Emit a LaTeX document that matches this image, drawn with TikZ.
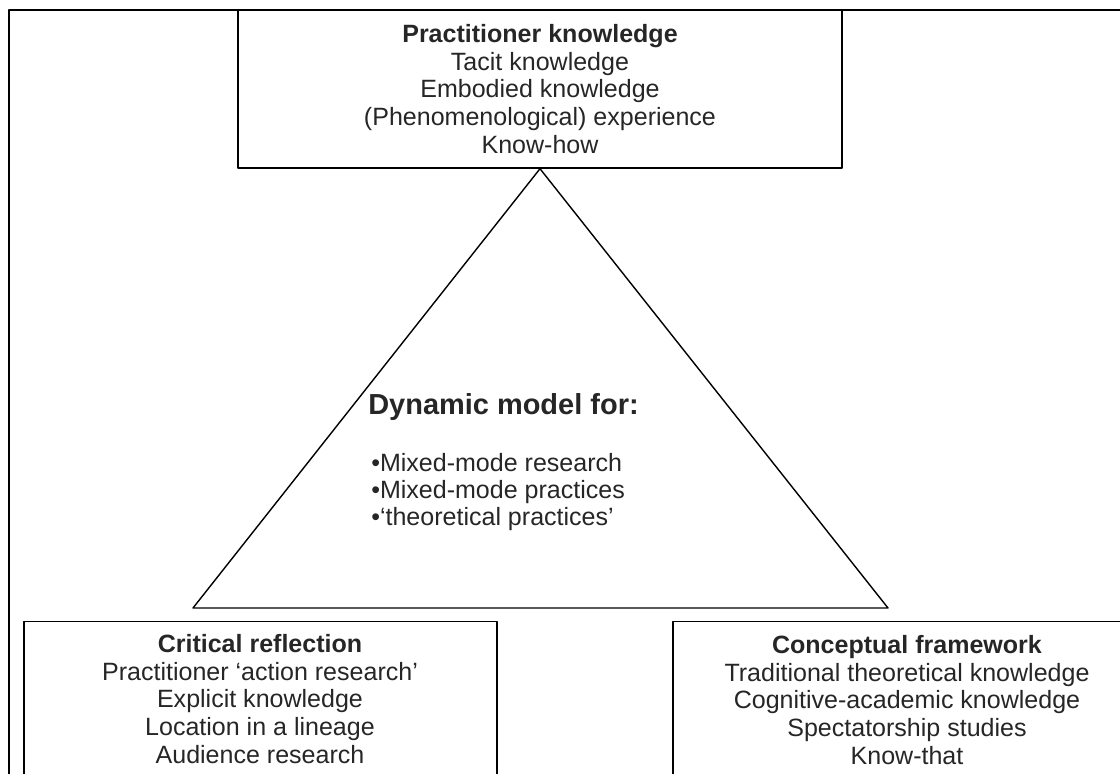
\documentclass[tikz,border=0pt]{standalone}
\usepackage{fontspec}
\setmainfont{Liberation Sans}
\usetikzlibrary{positioning}
\begin{document}
\begin{tikzpicture}[line join=round,x=0.025cm,y=-0.025cm,
  kbox/.style={draw,line width=1pt,inner sep=0pt},
  ktext/.style={align=center,inner sep=0pt,text=black!85,font=\fontsize{17.8pt}{19.6pt}\selectfont},
  klist/.style={align=left,inner sep=0pt,text=black!85,font=\fontsize{17.8pt}{19.2pt}\selectfont}]
\useasboundingbox (0,0) rectangle (1120,774);
\clip (0,0) rectangle (1120,774);
\draw[line width=1pt] (9,800) -- (9,10) -- (1150,10);
\node[kbox,ktext,minimum width=15.1cm,minimum height=3.95cm] (prac) at (540,89)
  {\textbf{Practitioner knowledge}\\Tacit knowledge\\Embodied knowledge\\(Phenomenological) experience\\Know-how};
\coordinate (bl) at (193,608);
\coordinate (br) at (888,608);
\draw[line width=1pt] (prac.south) -- (br) -- (bl) -- cycle;
\node[anchor=west,inner sep=0pt,text=black!85,font=\fontsize{20.6pt}{24pt}\selectfont\bfseries] (dyn) at (368,407) {Dynamic model for:};
\node[klist,anchor=west] (modes) at (371,492) {•Mixed-mode research\\•Mixed-mode practices\\•‘theoretical practices’};
\node[kbox,minimum width=11.825cm,minimum height=8.5cm,anchor=north] (critbox) at (260.5,621) {};
\node[ktext] (crit) at (260,699) {\textbf{Critical reflection}\\Practitioner ‘action research’\\Explicit knowledge\\Location in a lineage\\Audience research};
\node[kbox,minimum width=11.75cm,minimum height=8.5cm,anchor=north] (concbox) at (908,621) {};
\node[ktext] (conc) at (907,700) {\textbf{Conceptual framework}\\Traditional theoretical knowledge\\Cognitive-academic knowledge\\Spectatorship studies\\Know-that};
\end{tikzpicture}
\end{document}
